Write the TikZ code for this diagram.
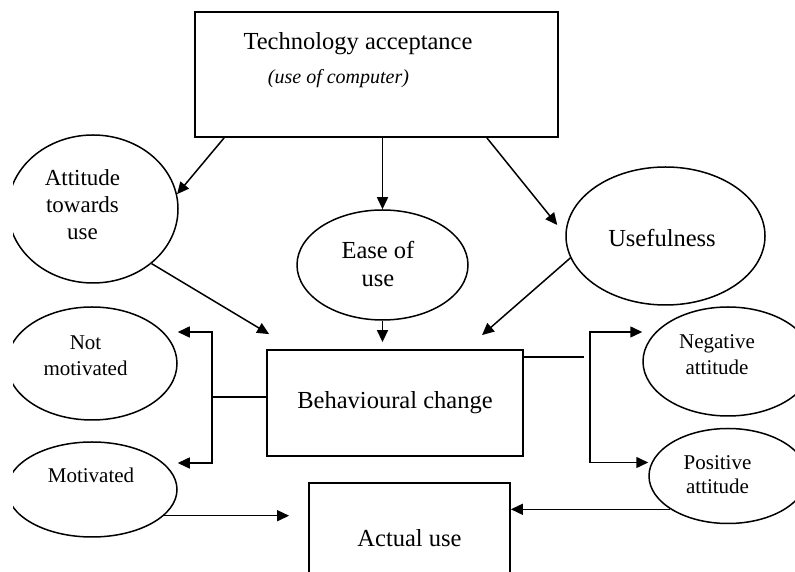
\documentclass[tikz,border=0pt]{standalone}
\usepackage{fontspec}
\setmainfont{Liberation Serif}
\usetikzlibrary{arrows.meta,calc,shapes.geometric}

\begin{document}
\begin{tikzpicture}[x=1pt,y=1pt,
  box/.style={draw,line width=1.8pt,inner sep=0pt,font=\fontsize{24.5}{28}\selectfont},
  oval/.style={draw,ellipse,line width=1.5pt,inner sep=0pt},
  big/.style={font=\fontsize{24.5}{28}\selectfont,align=center},
  small/.style={font=\fontsize{21}{26}\selectfont,align=center},
  arr/.style={line width=1.5pt,-{Triangle[length=12pt,width=11pt]}},
  arrs/.style={line width=1.5pt,{Triangle[length=12pt,width=11pt]}-{Triangle[length=12pt,width=11pt]}}]
\useasboundingbox (0,0) rectangle (795,572);
\clip (13,0) rectangle (795,572);

% boxes
\node[box,minimum width=363,minimum height=125] (tech) at (376.5,497.5) {};
\node[big] (techA) at (358,528) {Technology acceptance};
\node[font=\fontsize{20}{24}\selectfont\itshape] (techB) at (338.5,493) {(use of computer)};
\node[box,minimum width=256,minimum height=106] (beh) at (395,169) {Behavioural change};
\node[box,minimum width=201,minimum height=110] (act) at (409.5,34) {Actual use};

% ellipses
\node[oval,minimum width=170,minimum height=148] (att) at (93,363) {};
\node[font=\fontsize{23}{27}\selectfont,align=center] (attT) at (82.5,367) {Attitude\\towards\\use};
\node[oval,minimum width=171,minimum height=110] (ease) at (382.5,307) {};
\node[big] (easeT) at (378,308) {Ease of\\use};
\node[oval,minimum width=199,minimum height=138] (use) at (665.5,336) {};
\node[big] (useT) at (662,334) {Usefulness};
\node[oval,minimum width=170,minimum height=113] (notm) at (92,208.5) {};
\node[small] (notmT) at (85.5,216) {Not\\motivated};
\node[oval,minimum width=170,minimum height=95] (mot) at (92,82.5) {};
\node[small] (motT) at (91,97) {Motivated};
\node[oval,minimum width=170,minimum height=109] (neg) at (728,210.5) {};
\node[small] (negT) at (717,217) {Negative\\attitude};
\node[oval,minimum width=158,minimum height=95] (pos) at (728,96) {};
\node[small,font=\fontsize{21}{24}\selectfont] (posT) at (717.5,97) {Positive\\attitude};

% arrows from the top box
\draw[arr] ([xshift=30]tech.south west) -- (att.10);
\draw[arr] ([xshift=6]tech.south) -- (ease.north);
\draw[arr] ([xshift=-72]tech.south east) -- ([xshift=-8,yshift=11]use.west);

% into behavioural change
\draw[arr] (att.-43.5) -- ([xshift=3,yshift=15]beh.north west);
\draw[arr] (ease.south) -- ($(beh.north -| ease.south)+(0,7)$);
\draw[arr] (use.193.5) -- ([xshift=87,yshift=14]beh.north);

% out of behavioural change
\draw[line width=1.5pt] ([yshift=6]beh.west) -- ++(-54,0) coordinate (lj);
\draw[arrs] ([yshift=31.5]notm.east) -| (lj) |- ([yshift=26.5]mot.east);
\draw[line width=1.5pt] ([yshift=-8]beh.north east) -- ++(60,0);
\coordinate (rj) at ($(beh.east)+(66,0)$);
\draw[arrs] ([yshift=29.5]neg.west) -| (rj) |- ([yshift=13.5]pos.west);

% into actual use
\draw[arr] (mot.-20.5) -- ($(act.west |- mot.-20.5)+(-19,0)$);
\draw[arr] (pos.210) -- (act.east |- pos.210);
\end{tikzpicture}
\end{document}
